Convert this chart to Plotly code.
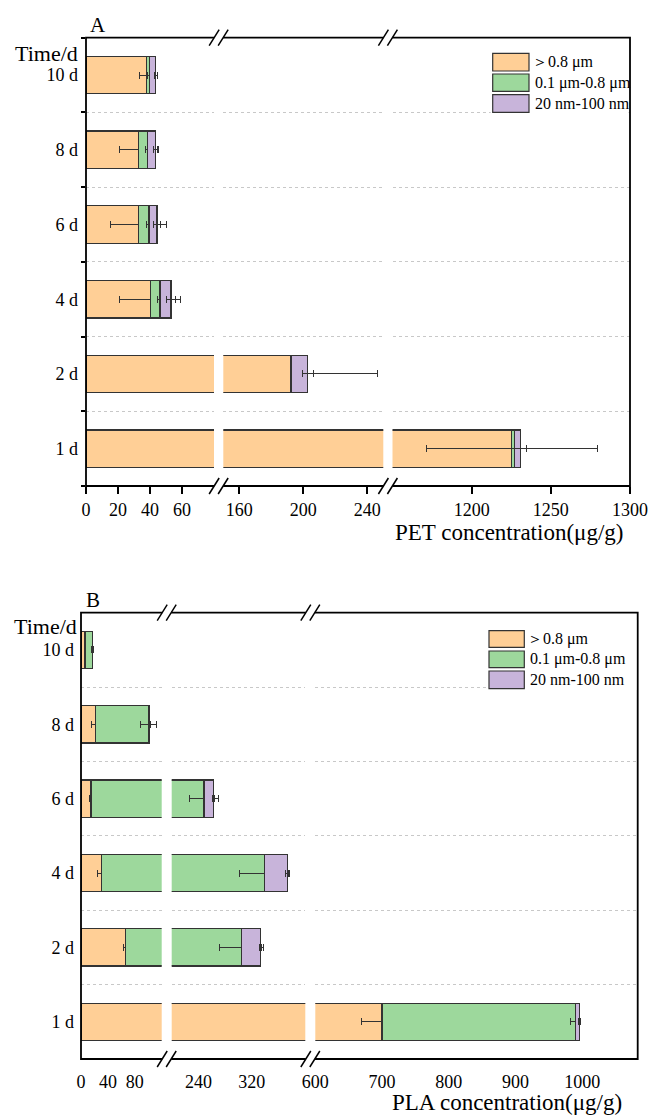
import plotly.graph_objects as go

# ---------------- data ----------------
days = ["1 d", "2 d", "4 d", "6 d", "8 d", "10 d"]

# Panel A: PET (µg/g)
pet_large = [1225.2, 192.1, 40.2, 32.7, 32.7, 38.0]
pet_mid = [1.7, 0.5, 6.0, 6.7, 5.8, 1.6]
pet_nano = [3.9, 10.1, 6.9, 5.0, 5.0, 3.9]
pet_large_err_plus = [54, 54, 19, 17.3, 12, 4.5]
pet_large_err_minus = [54, 0, 19, 17.3, 12, 4.5]
pet_mid_err = [2, 0.5, 1.5, 1.5, 1.5, 1]
pet_nano_err = [4, 3.5, 3, 2, 1.5, 1]

# Panel B: PLA (µg/g)
pla_large = [700, 66, 30.5, 15, 22, 6]
pla_mid = [290, 238.4, 308.4, 233.5, 78, 11]
pla_nano = [6, 28.6, 34, 14, 2, 0.5]
pla_large_err = [31, 2.5, 5.7, 3, 5.7, 1.5]
pla_mid_err = [7, 33, 38, 22, 12, 1.5]
pla_nano_err = [2, 2, 2, 2, 1, 0.5]

series_names = ["＞0.8 μm", "0.1 μm-0.8 μm", "20 nm-100 nm"]
colors = ["#FFCF96", "#9DD89C", "#C8B4DA"]

# axis breaks
pet_ranges = [[0, 80], [150, 250], [1150, 1300]]
pet_ticks = [[0, 20, 40, 60], [160, 200, 240], [1200, 1250, 1300]]
pla_ranges = [[0, 120], [200, 400], [600, 1083]]
pla_ticks = [[0, 40, 80], [240, 320], [600, 700, 800, 900, 1000]]

# ---------------- layout geometry (pixels) ----------------
W, H = 651, 1118
FONT = "Liberation Serif"


def fx(p):
    return p / W


def fy(p):
    return 1 - p / H


A_seg_px = [(86, 214), (223.3, 383.3), (392.5, 630)]
A_y_px = (37.7, 486)
B_seg_px = [(81, 161.7), (171.7, 305.3), (315.3, 637.7)]
B_y_px = (612.7, 1059)

fig = go.Figure()
layout = dict(
    width=W, height=H, margin=dict(l=0, r=0, t=0, b=0, pad=0, autoexpand=False),
    paper_bgcolor="white", plot_bgcolor="rgba(0,0,0,0)",
    barmode="stack", bargap=0.5, showlegend=False,
    font=dict(family=FONT, size=18, color="black"),
)
shapes = []
annotations = []


def add_panel(panel_idx, large, mid, nano, lerr_p, lerr_m, merr, nerr,
              ranges, ticks, seg_px, y_px, show_xticks, show_yticks):
    yname = "y" if panel_idx == 0 else "y2"
    ykey = "yaxis" if panel_idx == 0 else "yaxis2"
    first_x = None
    for k in range(3):
        n = panel_idx * 3 + k + 1
        xname = "x" if n == 1 else f"x{n}"
        xkey = "xaxis" if n == 1 else f"xaxis{n}"
        if first_x is None:
            first_x = xname
        vals = [large, mid, nano]
        errs = [dict(type="data", array=lerr_p, arrayminus=lerr_m, symmetric=False),
                dict(type="data", array=merr),
                dict(type="data", array=nerr)]
        for s in range(3):
            e = dict(errs[s])
            e.update(color="#333333", thickness=1, width=3.5, visible=True)
            fig.add_trace(go.Bar(
                y=days, x=vals[s], orientation="h", name=series_names[s],
                marker=dict(color=colors[s], line=dict(color="#333333", width=1.3)),
                error_x=e, xaxis=xname, yaxis=yname, hoverinfo="skip",
            ))
        layout[xkey] = dict(
            domain=[fx(seg_px[k][0]), fx(seg_px[k][1])],
            range=ranges[k], anchor=yname, showgrid=False, zeroline=False,
            showline=False, tickmode="array", tickvals=ticks[k], automargin=False,
            ticks="outside" if show_xticks else "",
            ticklen=7 if show_xticks else 0, tickwidth=1.5, tickcolor="black",
            ticklabelstandoff=0 if show_xticks else 10,
            tickfont=dict(family=FONT, size=18, color="black"),
        )
    layout[ykey] = dict(
        domain=[fy(y_px[1]), fy(y_px[0])], anchor=first_x, automargin=False,
        type="category", categoryorder="array", categoryarray=days,
        range=[-0.5, 5.5], tickson="boundaries",
        ticks="outside" if show_yticks else "", ticklen=4, tickwidth=1.5,
        tickcolor="black", showline=False, zeroline=False,
        ticklabelstandoff=7 if show_yticks else 6,
        showgrid=True, gridcolor="#c8c8c8", griddash="dot", gridwidth=1,
        tickfont=dict(family=FONT, size=18, color="black"),
    )

    # frame
    x0, x1 = seg_px[0][0], seg_px[2][1]
    yt, yb = y_px
    shapes.append(dict(type="rect", xref="paper", yref="paper",
                       x0=fx(x0), x1=fx(x1), y0=fy(yb), y1=fy(yt),
                       line=dict(color="black", width=1.8), layer="above"))
    # break marks
    for k in range(2):
        c = (seg_px[k][1] + seg_px[k + 1][0]) / 2
        for yy in (yt, yb):
            shapes.append(dict(type="line", xref="paper", yref="paper",
                               x0=fx(c - 4.5), x1=fx(c + 4.5), y0=fy(yy), y1=fy(yy),
                               line=dict(color="white", width=4), layer="above"))
            for off in (-4.5, 4.5):
                shapes.append(dict(type="line", xref="paper", yref="paper",
                                   x0=fx(c + off - 5), x1=fx(c + off + 5),
                                   y0=fy(yy + 8), y1=fy(yy - 8),
                                   line=dict(color="black", width=1.5), layer="above"))


add_panel(0, pet_large, pet_mid, pet_nano, pet_large_err_plus, pet_large_err_minus,
          pet_mid_err, pet_nano_err, pet_ranges, pet_ticks, A_seg_px, A_y_px, True, True)
add_panel(1, pla_large, pla_mid, pla_nano, pla_large_err, pla_large_err,
          pla_mid_err, pla_nano_err, pla_ranges, pla_ticks, B_seg_px, B_y_px, False, False)


# legends (drawn as boxes + text)
def add_legend(bx0, bx1, rows, right_edge, bg_top, bg_bottom):
    shapes.append(dict(type="rect", xref="paper", yref="paper",
                       x0=fx(bx0 - 2), x1=fx(right_edge - 1.5), y0=fy(bg_bottom), y1=fy(bg_top),
                       fillcolor="white", line=dict(width=0), layer="above"))
    for i, (r0, r1) in enumerate(rows):
        shapes.append(dict(type="rect", xref="paper", yref="paper",
                           x0=fx(bx0), x1=fx(bx1), y0=fy(r1), y1=fy(r0),
                           fillcolor=colors[i], line=dict(color="#333333", width=1.2),
                           layer="above"))
        tx = bx1 + (0.5 if i == 0 else 3.5)
        annotations.append(dict(text=series_names[i], xref="paper", yref="paper",
                                x=fx(tx), y=fy((r0 + r1) / 2), xanchor="left",
                                yanchor="middle", showarrow=False,
                                font=dict(family=FONT, size=16, color="black")))


add_legend(492.7, 529, [(53.3, 71), (74, 91.3), (94.7, 112.3)], 630, 45, 114)
add_legend(489, 524.3, [(630.7, 647.3), (651, 667.7), (671, 688.7)], 637.7, 620, 690)


def add_text(text, x, y, size, xanchor="center"):
    annotations.append(dict(text=text, xref="paper", yref="paper", x=fx(x), y=fy(y),
                            xanchor=xanchor, yanchor="middle", showarrow=False,
                            font=dict(family=FONT, size=size, color="black")))


add_text("A", 88, 25, 21, "left")
add_text("B", 84, 600, 21, "left")
add_text("Time/d", 80, 53, 22, "right")
add_text("Time/d", 79, 626, 22, "right")
add_text("PET concentration(μg/g)", 509, 532, 23)
add_text("PLA concentration(μg/g)", 507, 1102, 23)

layout["shapes"] = shapes
layout["annotations"] = annotations
fig.update_layout(**layout)
fig.write_html("out.html", config={"displayModeBar": False},
               post_script="document.body.style.margin='0';document.body.style.overflow='hidden';")
